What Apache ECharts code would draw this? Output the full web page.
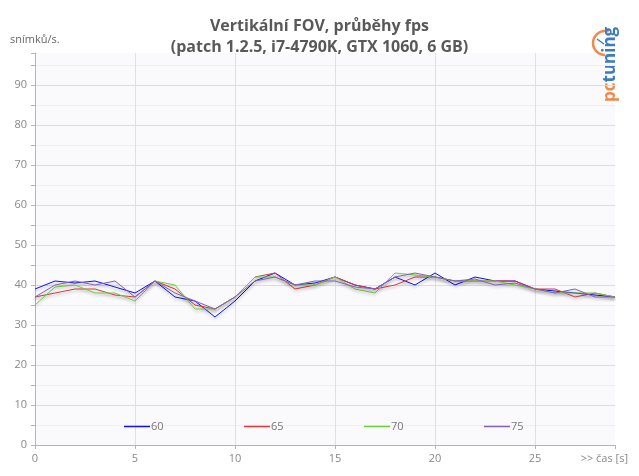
<!DOCTYPE html>
<html><head><meta charset="utf-8">
<script src="https://cdn.jsdelivr.net/npm/echarts@6/dist/echarts.min.js"></script>
<style>html,body{margin:0;padding:0;background:#fff}#c{width:639px;height:476px}</style>
</head><body><div id="c"></div>
<script>
const seconds = [0,1,2,3,4,5,6,7,8,9,10,11,12,13,14,15,16,17,18,19,20,21,22,23,24,25,26,27,28,29];
const seriesNames = ['60','65','70','75'];
const fov60 = [39,41,40.5,41,39.5,38,41,37,36,32,36,41,43,40,40.5,42,40,39,42,40,43,40,42,41,41,39,38.5,38,37.5,37];
const fov65 = [37,38,39,39,37.5,37,41,39,35,34,37,42,43,39,40,42,40,39,40,42,42,41,41,41,41,39,39,37,38,37];
const fov70 = [35,39.5,40,38,38,36,41,40,34,34,37,42,42,40,40,42,39,38,43,42.5,42,41,41,41,40,39,38,38,38,37];
const fov75 = [37,40,41,40,41,37,41,38,36,34,37,41,42,40,41,41,39.5,39,42,43,42,41,41.5,40,40.5,39,38,39,37,37];
const colors = ['#1010ff','#e03a3a','#6fcf3a','#8363b8'];
const allData = [fov60, fov65, fov70, fov75];

const chart = echarts.init(document.getElementById('c'));
const font = 'Open Sans';
const series = allData.map((d, i) => ({
  name: seriesNames[i], type: 'line', symbol: 'none', smooth: false,
  data: d.map((v, j) => [seconds[j], v]),
  lineStyle: {width: 1, color: colors[i], shadowColor: 'rgba(0,0,0,0.25)', shadowBlur: 3, shadowOffsetY: 2},
  itemStyle: {color: colors[i]}
}));
const legends = seriesNames.map((n, i) => ({
  data: [n], left: 119 + 120 * i, top: 416, icon: 'rect', itemWidth: 26, itemHeight: 1.5, itemGap: 0,
  textStyle: {color: '#777', fontFamily: font, fontSize: 11, padding: [0,0,0,-4]}
}));
chart.setOption({
  animation: false,
  title: {
    text: 'Vertikální FOV, průběhy fps\n(patch 1.2.5, i7-4790K, GTX 1060, 6 GB)',
    left: 'center', top: 11,
    textStyle: {color: '#595959', fontFamily: font, fontWeight: 'bold', fontSize: 16, lineHeight: 21}
  },
  legend: legends,
  grid: {left: 35, right: 24, top: 53, bottom: 31, show: true, backgroundColor: '#fafafd', borderWidth: 0},
  xAxis: {
    type: 'value', min: 0, max: 29, interval: 5,
    axisLine: {lineStyle: {color: '#b5b5b5'}},
    axisTick: {show: true, length: 4, lineStyle: {color: '#b5b5b5'}},
    axisLabel: {color: '#888', fontFamily: font, fontSize: 11, margin: 8,
      formatter: v => (v % 5 === 0 ? String(v) : '')},
    splitLine: {show: true, showMaxLine: false, lineStyle: {color: '#e0e0e0'}}
  },
  yAxis: {
    type: 'value', min: 0, max: 98, interval: 10,
    axisLine: {show: true, lineStyle: {color: '#b5b5b5'}},
    axisTick: {show: true, length: 4, lineStyle: {color: '#b5b5b5'}},
    minorTick: {show: true, splitNumber: 2, length: 4, lineStyle: {color: '#b5b5b5'}},
    axisLabel: {color: '#888', fontFamily: font, fontSize: 11, margin: 8,
      formatter: v => (v % 10 === 0 ? String(v) : '')},
    splitLine: {show: true, showMaxLine: false, lineStyle: {color: '#dcdcdc'}},
    minorSplitLine: {show: true, lineStyle: {color: '#efefef'}}
  },
  graphic: [
    {type: 'text', left: 10, top: 34, style: {text: 'snímků/s.', fill: '#666', font: '11px "Open Sans"'}},
    {type: 'text', right: 11, top: 453, style: {text: '>> čas [s]', fill: '#888', font: '11px "Open Sans"'}},
    {type: 'arc', shape: {cx: 605, cy: 43, r: 12, startAngle: Math.PI * 0.5, endAngle: Math.PI * 1.6},
      style: {stroke: '#f08a4b', lineWidth: 2.5, fill: null}},
    {type: 'line', shape: {x1: 604, y1: 44, x2: 597, y2: 39}, style: {stroke: '#3d7cc0', lineWidth: 1.5}},
    {type: 'text', x: 602, y: 102, rotation: Math.PI / 2,
      style: {text: '{a|pc}{b|tuning}', rich: {
        a: {fill: '#f08a4b', font: 'bold 17px "Open Sans"'},
        b: {fill: '#3d7cc0', font: 'bold 17px "Open Sans"'}}, textVerticalAlign: 'top'}}
  ],
  series: series
});
</script></body></html>
